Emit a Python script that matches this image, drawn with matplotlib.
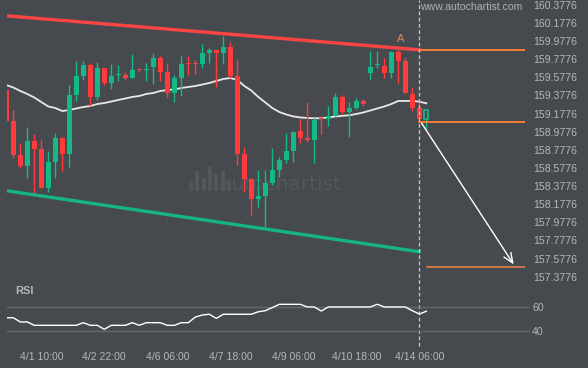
import matplotlib
matplotlib.use("Agg")
import matplotlib.pyplot as plt
from matplotlib.transforms import blended_transform_factory

# H4 candles (index 0..60), prices
opens = [159.437, 159.098, 158.720, 158.602, 158.874, 158.786, 158.359, 158.639, 158.911, 158.731,
         159.382, 159.591, 159.713, 159.363, 159.683, 159.511, 159.599, 159.602, 159.572, 159.661,
         159.654, 159.694, 159.786, 159.632, 159.407, 159.572, 159.727, 159.727, 159.720, 159.848,
         159.878, 159.848, 159.914, 159.591, 158.728, 158.455, 158.235, 158.268, 158.408, 158.555,
         158.665, 158.767, 158.985, 158.911, 158.885, 159.125, 159.114, 159.150, 159.363, 159.198,
         159.242, 159.316, 159.621, 159.709, 159.702, 159.628, 159.859, 159.757, 159.389, 159.235,
         159.114]
highs = [159.437, 159.216, 158.849, 159.025, 158.952, 158.885, 158.767, 158.959, 158.922, 159.492,
         159.757, 159.757, 159.731, 159.742, 159.683, 159.720, 159.713, 159.639, 159.834, 159.676,
         159.738, 159.842, 159.812, 159.720, 159.602, 159.812, 159.812, 159.768, 159.944, 159.897,
         159.878, 160.036, 159.963, 159.775, 158.811, 158.466, 158.555, 158.555, 158.800, 158.695,
         158.966, 158.985, 159.114, 159.308, 159.125, 159.150, 159.260, 159.400, 159.382, 159.308,
         159.352, 159.334, 159.867, 159.867, 159.786, 159.867, 159.878, 159.790, 159.467, 159.327,
         159.216]
lows = [159.098, 158.690, 158.573, 158.463, 158.290, 158.353, 158.315, 158.463, 158.547, 158.591,
        159.316, 159.547, 159.260, 159.327, 159.492, 159.445, 159.536, 159.547, 159.569, 159.639,
        159.536, 159.500, 159.536, 159.356, 159.308, 159.374, 159.602, 159.610, 159.683, 159.731,
        159.473, 159.724, 159.569, 158.610, 158.309, 158.058, 158.143, 157.904, 158.389, 158.481,
        158.628, 158.646, 158.849, 158.867, 158.635, 158.952, 159.040, 159.150, 159.169, 158.915,
        159.224, 159.260, 159.547, 159.676, 159.572, 159.572, 159.511, 159.404, 159.205, 159.098,
        158.996]
closes = [159.098, 158.720, 158.602, 158.874, 158.786, 158.359, 158.639, 158.911, 158.731, 159.382,
          159.591, 159.713, 159.363, 159.683, 159.511, 159.591, 159.602, 159.572, 159.657, 159.654,
          159.661, 159.786, 159.639, 159.407, 159.572, 159.724, 159.720, 159.720, 159.848, 159.878,
          159.848, 159.914, 159.591, 158.731, 158.455, 158.235, 158.268, 158.408, 158.555, 158.665,
          158.767, 158.979, 158.911, 158.885, 159.106, 159.114, 159.150, 159.363, 159.198, 159.235,
          159.316, 159.286, 159.694, 159.713, 159.628, 159.859, 159.757, 159.407, 159.235, 159.114,
          159.216]

ma = [159.492, 159.464, 159.426, 159.393, 159.354, 159.304, 159.255, 159.238, 159.205, 159.216,
      159.233, 159.249, 159.260, 159.282, 159.293, 159.310, 159.327, 159.343, 159.360, 159.371,
      159.393, 159.404, 159.426, 159.437, 159.442, 159.459, 159.470, 159.481, 159.497, 159.514,
      159.536, 159.558, 159.569, 159.547, 159.481, 159.431, 159.360, 159.299, 159.238, 159.194,
      159.167, 159.145, 159.134, 159.128, 159.125, 159.125, 159.134, 159.145, 159.152, 159.158,
      159.172, 159.189, 159.211, 159.233, 159.255, 159.282, 159.316, 159.316, 159.316, 159.308,
      159.290]

rsi = [50.8, 50.8, 47.3, 47.3, 44.5, 44.5, 44.5, 44.5, 44.5, 44.5,
       44.5, 46.7, 44.5, 44.5, 41.2, 44.5, 44.5, 44.5, 46.7, 44.5,
       46.7, 46.7, 46.7, 44.5, 44.5, 46.7, 46.7, 51.4, 53.1, 53.7,
       50.3, 53.7, 53.7, 53.7, 53.7, 53.7, 55.8, 56.7, 59.3, 62.0,
       62.0, 62.0, 62.0, 59.8, 59.8, 56.4, 59.8, 59.8, 59.8, 59.8,
       59.8, 59.8, 59.8, 62.0, 59.8, 59.8, 59.8, 59.8, 56.7, 53.9,
       56.2]

# channel lines and pattern levels
resistance = [(0, 160.255), (59, 159.880)]
support = [(0, 158.326), (59, 157.653)]
upper_level = 159.878
lower_level = 159.081
target_level = 157.481
arrow_start = (59.1, 159.098)
arrow_end = (72.7, 157.488)
a_point = (56.4, 159.996)
now_idx = 59

price_ticks = [157.3776 + 0.2 * i for i in range(16)]
time_idx = [5, 14, 23, 32, 41, 50, 59]
time_labels = ["4/1 10:00", "4/2 22:00", "4/6 06:00", "4/7 18:00",
               "4/9 06:00", "4/10 18:00", "4/14 06:00"]
logo_bars = [3, 6, 4, 7, 5, 6, 3]

BG = "#464a4f"
UP = "#14b987"
DOWN = "#ff3b3b"
TXT = "#b4b6b9"
ORANGE = "#ff7f33"

plt.rcParams["font.family"] = ["Liberation Sans", "DejaVu Sans"]

fig = plt.figure(figsize=(5.88, 3.68), dpi=100, facecolor=BG)
W, H = 588, 368
ax = fig.add_axes([7 / W, 1 - 285 / H, 518 / W, 285 / H])
ax.set_facecolor(BG)
ax.set_xlim(0.1, 74.1)
ax.set_ylim(160.4294 - 0.011029 * 285, 160.4294)
for s in ax.spines.values():
    s.set_visible(False)

for t in time_idx:
    ax.axvline(t, color="#4a4e54", lw=1, zorder=0)

# watermark
ax.text(220 / W, 1 - 185 / H, "autochartist", transform=fig.transFigure, fontsize=14.5,
        color="#53575c", ha="left", va="center", zorder=1, family="DejaVu Sans")

# candles
for i in range(len(opens)):
    o, h, l, c = opens[i], highs[i], lows[i], closes[i]
    col = UP if c >= o else DOWN
    ax.vlines(i, l, h, color=col, lw=1, zorder=3)
    bottom = min(o, c)
    height = max(abs(c - o), 0.012)
    if i == len(opens) - 1:
        ax.bar(i, height, 0.62, bottom=bottom, facecolor=BG, edgecolor=col, lw=1.2, zorder=4)
    else:
        ax.bar(i, height, 0.72, bottom=bottom, color=col, lw=0, zorder=4)

ax.plot(range(len(ma)), ma, color="#e8e8e8", lw=1.3, zorder=2)

ax.plot([p[0] for p in resistance], [p[1] for p in resistance], color="#ff4444", lw=2.4, zorder=5)
ax.plot([p[0] for p in support], [p[1] for p in support], color="#15b386", lw=2.4, zorder=5)
ax.plot([now_idx, 74.1], [upper_level, upper_level], color=ORANGE, lw=1.3, zorder=5)
ax.plot([now_idx, 74.1], [lower_level, lower_level], color=ORANGE, lw=1.3, zorder=5)
ax.plot([now_idx + 1.05, 74.1], [target_level, target_level], color="#f0834a", lw=1.1, zorder=5)
ax.annotate("", xy=arrow_end, xytext=arrow_start,
            arrowprops=dict(arrowstyle="->,head_length=0.7,head_width=0.3", color="white", lw=1.0),
            zorder=6)
ax.text(a_point[0], a_point[1], "A", color="#e0855a", fontsize=8, ha="center", va="center")

ax.yaxis.tick_right()
ax.set_yticks(price_ticks)
ax.set_yticklabels(["%.4f" % p for p in price_ticks])
ax.tick_params(axis="y", length=0, pad=5.8, labelsize=7.6, labelcolor=TXT)
ax.set_xticks([])

lax = fig.add_axes([187 / W, 1 - 191 / H, 46 / W, 27 / H])
lax.bar(range(len(logo_bars)), logo_bars, width=0.6, color="#53575c")
lax.set_xlim(-0.6, len(logo_bars) - 0.4)
lax.set_ylim(0, 8)
lax.axis("off")
fig.text(522 / W, 1 - 7 / H, "www.autochartist.com", color="#aeb0b3", fontsize=7.6,
         ha="right", va="center")

# RSI panel
rax = fig.add_axes([7 / W, 1 - 342 / H, 523 / W, 54 / H])
rax.set_facecolor(BG)
rax.patch.set_alpha(0)
rax.set_xlim(0.1, 74.81)
rax.set_ylim(30.6, 75.6)
for s in rax.spines.values():
    s.set_visible(False)
rax.axhline(60, color="#64686d", lw=1)
rax.axhline(40, color="#64686d", lw=1)
rax.plot(range(len(rsi)), rsi, color="white", lw=1)
rax.yaxis.tick_right()
rax.set_yticks([40, 60])
rax.set_yticklabels(["40", "60"])
rax.tick_params(axis="y", length=0, pad=1.5, labelsize=7.6, labelcolor=TXT)
rax.set_xticks(time_idx)
rax.set_xticklabels(time_labels)
rax.tick_params(axis="x", length=0, pad=7, labelsize=7.6, labelcolor=TXT)
fig.text(15 / W, 1 - 291 / H, "RSI", color=TXT, fontsize=8, fontweight="bold",
         ha="left", va="center")

# current time marker
tr = blended_transform_factory(ax.transData, fig.transFigure)
ax.plot([now_idx, now_idx], [1 - 346 / H, 1], transform=tr, clip_on=False,
        color="#c8c8c8", lw=0.9, ls=(0, (3, 2)), zorder=7)

fig.savefig("out.png", dpi=100, facecolor=BG)
